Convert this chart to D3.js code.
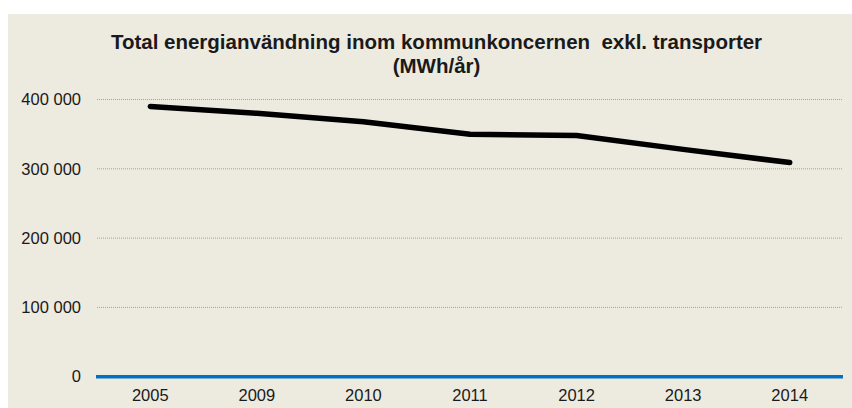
<!DOCTYPE html>
<html>
<head>
<meta charset="utf-8">
<script src="https://cdn.jsdelivr.net/npm/d3@7"></script>
<style>
  body { margin: 0; background: #ffffff; }
  #vis { width: 852px; height: 408px; }
  text { font-family: "Liberation Sans", Arial, sans-serif; fill: #1a1a1a; }
</style>
</head>
<body>
<div id="vis"></div>
<script>
var years = ['2005', '2009', '2010', '2011', '2012', '2013', '2014'];
var energy = [390000, 380000, 368000, 350000, 348000, 328000, 309000];
var yTicks = [0, 100000, 200000, 300000, 400000];
var titleLines = ['Total energianvändning inom kommunkoncernen  exkl. transporter', '(MWh/år)'];

var width = 852;
var height = 408;

var margin = {
    top: 99.5,
    bottom: 31.3,
    left: 97,
    right: 9
}

var svg = d3.select('#vis')
    .append('svg')
    .attr('width', width)
    .attr('height', height);

svg.append('rect')
    .attr('x', 8)
    .attr('y', 14)
    .attr('width', width - 8)
    .attr('height', height - 14)
    .style('fill', '#EDEAE0');

var x_scale = d3.scaleBand()
    .domain(years)
    .range([margin.left, width - margin.right]);

var y_scale = d3.scaleLinear()
    .domain([0, 400000])
    .range([height - margin.bottom, margin.top]);

var fmt = d3.formatLocale({ decimal: ',', thousands: ' ', grouping: [3], currency: ['', ' kr'] }).format(',d');

// gridlines
svg.append('g')
    .selectAll('line')
    .data(yTicks.filter(function(d) { return d > 0; }))
    .enter()
    .append('line')
    .attr('x1', margin.left)
    .attr('x2', width - margin.right)
    .attr('y1', function(d) { return y_scale(d); })
    .attr('y2', function(d) { return y_scale(d); })
    .style('stroke', '#7FAAD8')
    .style('stroke-width', 1)
    .style('stroke-dasharray', '1,1');

// y labels
var y_axis = d3.axisLeft(y_scale).tickValues(yTicks).tickFormat(fmt).tickSize(0).tickPadding(16);
var gy = svg.append('g')
    .attr('transform', 'translate(' + margin.left + ',0)')
    .call(y_axis);
gy.select('.domain').remove();
gy.selectAll('text').style('font-size', '16.5px').style('font-family', '"Liberation Sans", Arial, sans-serif').attr('fill', '#1a1a1a');

// x labels
var x_axis = d3.axisBottom(x_scale).tickSize(0).tickPadding(13);
var gx = svg.append('g')
    .attr('transform', 'translate(0,' + y_scale(0) + ')')
    .call(x_axis);
gx.select('.domain').remove();
gx.selectAll('text').style('font-size', '16.5px').style('font-family', '"Liberation Sans", Arial, sans-serif').attr('fill', '#1a1a1a');

// baseline
svg.append('line')
    .attr('x1', margin.left - 1)
    .attr('x2', width - margin.right)
    .attr('y1', y_scale(0))
    .attr('y2', y_scale(0))
    .style('stroke', '#0070C0')
    .style('stroke-width', 3.5);

var line = d3.line()
    .x(function(d, i) { return x_scale(years[i]) + x_scale.bandwidth() / 2; })
    .y(function(d) { return y_scale(d); });

svg.append('path')
    .datum(energy)
    .attr('d', line)
    .style('fill', 'none')
    .style('stroke', '#000000')
    .style('stroke-width', 5.5)
    .style('stroke-linejoin', 'round')
    .style('stroke-linecap', 'round');

svg.append('g')
    .selectAll('text')
    .data(titleLines)
    .enter()
    .append('text')
    .text(function(d) { return d; })
    .attr('x', 436.5)
    .attr('y', function(d, i) { return 49 + i * 24; })
    .attr('text-anchor', 'middle')
    .style('font-size', '20.5px')
    .style('font-weight', 'bold')
    .style('white-space', 'pre');
</script>
</body>
</html>
